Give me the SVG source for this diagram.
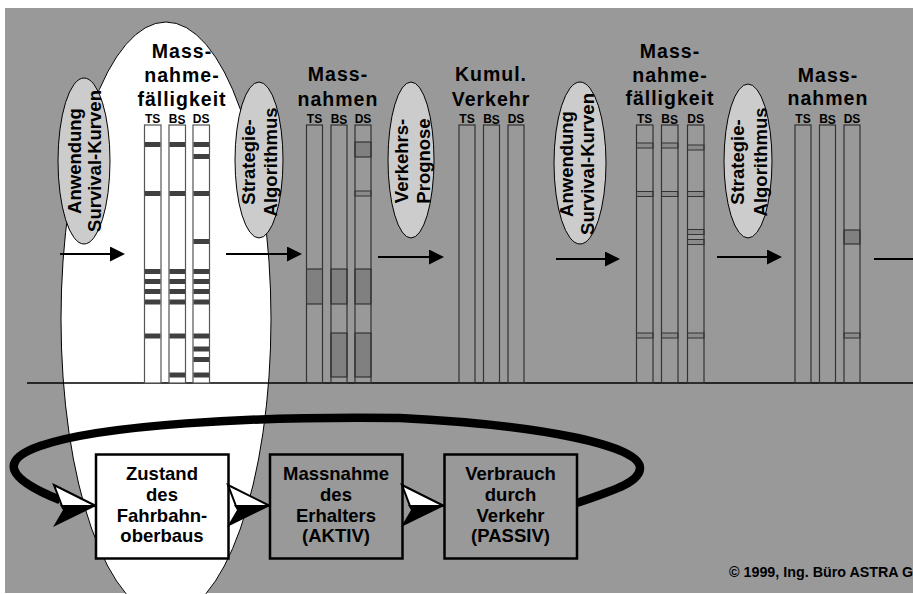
<svg xmlns="http://www.w3.org/2000/svg" width="913" height="594" viewBox="0 0 913 594">
<defs>
<style>
.t{font-family:"Liberation Sans",Arial,Helvetica,sans-serif;font-weight:bold;fill:#000}
.title{font-size:19.5px;letter-spacing:1px;text-anchor:middle}
.lbl{font-size:12px;text-anchor:middle}
.ov{font-size:18.5px;text-anchor:middle}
.bt{font-size:18.5px;text-anchor:middle}
.colw{fill:#fff;stroke:#555;stroke-width:1.2}
.colg{fill:none;stroke:#333;stroke-width:1.2}
.s1{fill:#404040}
.s2{fill:#8a8a8a;stroke:#333;stroke-width:1}
.dk{fill:#808080;stroke:#222;stroke-width:1}
.oe{fill:#ccc;stroke:#000;stroke-width:1}
.bx{stroke:#000;stroke-width:2.5}
.ar{stroke:#000;stroke-width:2.2;fill:none;marker-end:url(#ah)}
</style>
<marker id="ah" viewBox="0 0 15 15" refX="5" refY="7.5" markerWidth="15" markerHeight="15" markerUnits="userSpaceOnUse" orient="auto">
<path d="M0,0 L15,7.5 L0,15 z" fill="#000"/>
</marker>
<g id="head3d">
<polygon points="-42,-21 0,0 -34,0" fill="#fff" stroke="#000" stroke-width="2" stroke-linejoin="miter"/>
<polygon points="-36,-1 0,0 -43,21 -33,4" fill="#000"/>
</g>
</defs>

<rect x="0" y="0" width="913" height="594" fill="#fff"/>
<rect x="5" y="8" width="908" height="585" fill="#999"/>

<g id="focus-ellipse">
<ellipse cx="166" cy="319" rx="105" ry="297" fill="#fff" stroke="#000" stroke-width="1"/>
</g>

<line x1="27" y1="383" x2="913" y2="383" stroke="#000" stroke-width="1.3"/>

<!-- Massnahmefälligkeit 1 -->
<g id="col-faelligkeit-1">
<text class="t title" x="182" y="58">Mass-</text>
<text class="t title" x="182" y="82">nahme-</text>
<text class="t title" x="182" y="106">fälligkeit</text>
<text class="t lbl" x="152.7" y="122.5">TS</text>
<text class="t lbl" x="177.2" y="122.5">B<tspan dy="1.5">S</tspan></text>
<text class="t lbl" x="201.2" y="122.5">DS</text>
<rect class="colw" x="144.5" y="125" width="16.5" height="258"/>
<rect class="colw" x="169" y="125" width="16.5" height="258"/>
<rect class="colw" x="193" y="125" width="16.5" height="258"/>
<g class="s1">
<rect x="145" y="142" width="15.5" height="5"/><rect x="169.5" y="142" width="15.5" height="5"/><rect x="193.5" y="142" width="15.5" height="5"/>
<rect x="193.5" y="154" width="15.5" height="5"/>
<rect x="145" y="191" width="15.5" height="5"/><rect x="169.5" y="191" width="15.5" height="5"/><rect x="193.5" y="191" width="15.5" height="5"/>
<rect x="193.5" y="239" width="15.5" height="5"/>
<rect x="145" y="269" width="15.5" height="5"/><rect x="169.5" y="269" width="15.5" height="5"/><rect x="193.5" y="269" width="15.5" height="5"/>
<rect x="145" y="279" width="15.5" height="5"/><rect x="169.5" y="279" width="15.5" height="5"/><rect x="193.5" y="279" width="15.5" height="5"/>
<rect x="145" y="289" width="15.5" height="5"/><rect x="169.5" y="289" width="15.5" height="5"/><rect x="193.5" y="289" width="15.5" height="5"/>
<rect x="145" y="299.5" width="15.5" height="5"/><rect x="169.5" y="299.5" width="15.5" height="5"/><rect x="193.5" y="299.5" width="15.5" height="5"/>
<rect x="145" y="333.5" width="15.5" height="5"/><rect x="169.5" y="333.5" width="15.5" height="5"/><rect x="193.5" y="333.5" width="15.5" height="5"/>
<rect x="193.5" y="346.5" width="15.5" height="5"/>
<rect x="193.5" y="357" width="15.5" height="5"/>
<rect x="169.5" y="372.5" width="15.5" height="5"/><rect x="193.5" y="372.5" width="15.5" height="5"/>
</g>
</g>

<!-- Massnahmen 1 -->
<g id="col-massnahmen-1">
<text class="t title" x="338" y="81">Mass-</text>
<text class="t title" x="338" y="106">nahmen</text>
<text class="t lbl" x="314.5" y="122.5">TS</text>
<text class="t lbl" x="339" y="122.5">B<tspan dy="1.5">S</tspan></text>
<text class="t lbl" x="363" y="122.5">DS</text>
<rect class="dk" x="355" y="142" width="16" height="15"/>
<rect class="s2" x="355" y="191" width="16" height="5" fill="#999"/>
<rect class="dk" x="306.5" y="269" width="16" height="35"/>
<rect class="dk" x="331" y="269" width="16" height="35"/>
<rect class="dk" x="355" y="269" width="16" height="35"/>
<rect class="dk" x="331" y="333" width="16" height="44"/>
<rect class="dk" x="355" y="333" width="16" height="44"/>
<rect class="colg" x="306.5" y="125" width="16" height="258"/>
<rect class="colg" x="331" y="125" width="16" height="258"/>
<rect class="colg" x="355" y="125" width="16" height="258"/>
</g>

<!-- Kumul. Verkehr -->
<g id="col-kumul-verkehr">
<text class="t title" x="491" y="81">Kumul.</text>
<text class="t title" x="491" y="106">Verkehr</text>
<text class="t lbl" x="467" y="122.5">TS</text>
<text class="t lbl" x="491.5" y="122.5">B<tspan dy="1.5">S</tspan></text>
<text class="t lbl" x="516" y="122.5">DS</text>
<rect class="colg" x="459" y="125" width="16" height="258"/>
<rect class="colg" x="483.5" y="125" width="16" height="258"/>
<rect class="colg" x="508" y="125" width="16" height="258"/>
</g>

<!-- Massnahmefälligkeit 2 -->
<g id="col-faelligkeit-2">
<text class="t title" x="670" y="57.5">Mass-</text>
<text class="t title" x="670" y="81.5">nahme-</text>
<text class="t title" x="670" y="105">fälligkeit</text>
<text class="t lbl" x="644.7" y="122.5">TS</text>
<text class="t lbl" x="669.7" y="122.5">B<tspan dy="1.5">S</tspan></text>
<text class="t lbl" x="695.7" y="122.5">DS</text>
<rect class="s2" x="636.5" y="143" width="16.5" height="5"/><rect class="s2" x="661.5" y="143" width="16.5" height="5"/><rect class="s2" x="687.5" y="145" width="16.5" height="5"/>
<rect class="s2" x="636.5" y="191.5" width="16.5" height="5"/><rect class="s2" x="661.5" y="191.5" width="16.5" height="5"/><rect class="s2" x="687.5" y="191.5" width="16.5" height="5"/>
<rect class="s2" x="687.5" y="229.5" width="16.5" height="5"/><rect class="s2" x="687.5" y="239.5" width="16.5" height="5"/>
<rect class="s2" x="636.5" y="333" width="16.5" height="5"/><rect class="s2" x="661.5" y="333" width="16.5" height="5"/><rect class="s2" x="687.5" y="333" width="16.5" height="5"/>
<rect class="colg" x="636.5" y="125" width="16.5" height="258"/>
<rect class="colg" x="661.5" y="125" width="16.5" height="258"/>
<rect class="colg" x="687.5" y="125" width="16.5" height="258"/>
</g>

<!-- Massnahmen 2 -->
<g id="col-massnahmen-2">
<text class="t title" x="828" y="81.5">Mass-</text>
<text class="t title" x="828" y="105">nahmen</text>
<text class="t lbl" x="803" y="122.5">TS</text>
<text class="t lbl" x="827.5" y="122.5">B<tspan dy="1.5">S</tspan></text>
<text class="t lbl" x="852" y="122.5">DS</text>
<rect class="dk" x="844" y="230" width="16" height="14"/>
<rect class="s2" x="844" y="333" width="16" height="5"/>
<rect class="colg" x="795" y="125" width="16" height="258"/>
<rect class="colg" x="819.5" y="125" width="16" height="258"/>
<rect class="colg" x="844" y="125" width="16" height="258"/>
</g>

<g id="connectors">
<line class="ar" x1="60" y1="254" x2="115" y2="254"/>
<line class="ar" x1="226" y1="254" x2="292" y2="254"/>
<line class="ar" x1="378" y1="257" x2="434" y2="257"/>
<line class="ar" x1="556" y1="259" x2="610" y2="259"/>
<line class="ar" x1="717" y1="257" x2="772" y2="257"/>
<line x1="874" y1="259" x2="913" y2="259" stroke="#000" stroke-width="2.2"/>
<path d="M577,503 C615,490 640,482 640,468 C640,445 540,425 400,418 C250,416 100,425 40,446 C0,460 5,478 60,500" fill="none" stroke="#000" stroke-width="8.5" stroke-linecap="butt"/>
</g>

<g id="oval-survival-1">
<ellipse class="oe" cx="84" cy="161" rx="26" ry="83"/>
<g transform="translate(84,161) rotate(-90)">
<text class="t ov" x="0" y="-3.5">Anwendung</text>
<text class="t ov" x="0" y="17">Survival-Kurven</text>
</g>
</g>
<g id="oval-strategie-1">
<ellipse class="oe" cx="259" cy="160" rx="24" ry="78"/>
<g transform="translate(259,162) rotate(-90)">
<text class="t ov" x="0" y="-4.5">Strategie-</text>
<text class="t ov" x="0" y="18">Algorithmus</text>
</g>
</g>
<g id="oval-verkehrsprognose">
<ellipse class="oe" cx="411" cy="160" rx="23" ry="78"/>
<g transform="translate(411,161) rotate(-90)">
<text class="t ov" x="0" y="-3.5">Verkehrs-</text>
<text class="t ov" x="0" y="19">Prognose</text>
</g>
</g>
<g id="oval-survival-2">
<ellipse class="oe" cx="580" cy="163" rx="26" ry="81"/>
<g transform="translate(580,164) rotate(-90)">
<text class="t ov" x="0" y="-7.5">Anwendung</text>
<text class="t ov" x="0" y="14">Survival-Kurven</text>
</g>
</g>
<g id="oval-strategie-2">
<ellipse class="oe" cx="748" cy="161" rx="24" ry="77"/>
<g transform="translate(748,162) rotate(-90)">
<text class="t ov" x="0" y="-4">Strategie-</text>
<text class="t ov" x="0" y="19">Algorithmus</text>
</g>
</g>

<g id="box-zustand">
<rect class="bx" x="96" y="454.5" width="132.5" height="104" fill="#fff"/>
<text class="t bt" x="162" y="480">Zustand</text>
<text class="t bt" x="162" y="500.5">des</text>
<text class="t bt" x="162" y="521.5">Fahrbahn-</text>
<text class="t bt" x="162" y="542">oberbaus</text>
</g>
<g id="box-massnahme">
<rect class="bx" x="270" y="454.5" width="132.5" height="104" fill="#999"/>
<text class="t bt" x="336" y="480">Massnahme</text>
<text class="t bt" x="336" y="500.5">des</text>
<text class="t bt" x="336" y="521.5">Erhalters</text>
<text class="t bt" x="336" y="542">(AKTIV)</text>
</g>
<g id="box-verbrauch">
<rect class="bx" x="444.5" y="454.5" width="132.5" height="104" fill="#999"/>
<text class="t bt" x="510.5" y="480">Verbrauch</text>
<text class="t bt" x="510.5" y="500.5">durch</text>
<text class="t bt" x="510.5" y="521.5">Verkehr</text>
<text class="t bt" x="510.5" y="542">(PASSIV)</text>
</g>

<g id="loop-heads">
<use href="#head3d" transform="translate(96,506)"/>
<use href="#head3d" transform="translate(270,506)"/>
<use href="#head3d" transform="translate(444,506)"/>
</g>

<text class="t" x="729" y="577" font-size="14.3">© 1999, Ing. Büro ASTRA G</text>
</svg>
